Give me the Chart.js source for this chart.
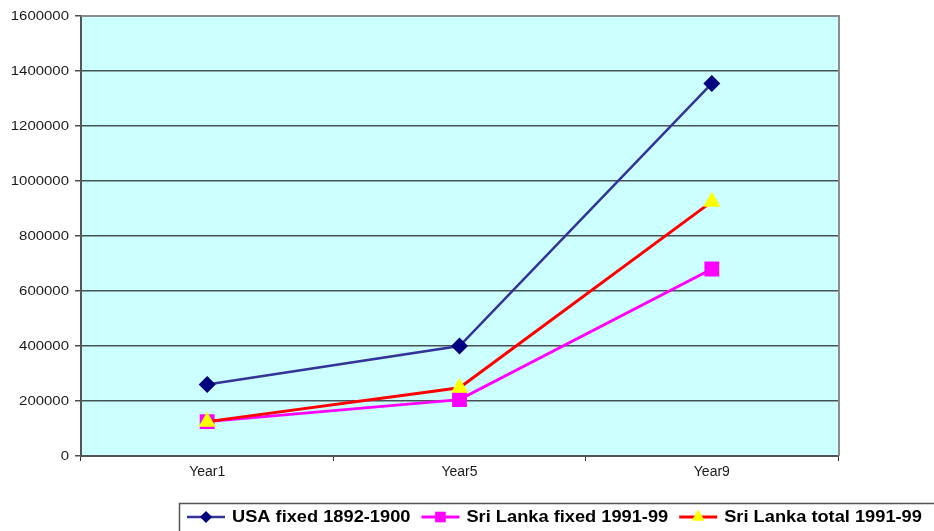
<!DOCTYPE html>
<html>
<head>
<meta charset="utf-8">
<script src="https://cdn.jsdelivr.net/npm/chart.js@4.4.1/dist/chart.umd.min.js"></script>
<style>
  html, body { margin: 0; padding: 0; background: #ffffff; }
  #wrap { width: 934px; height: 531px; position: relative; }
</style>
</head>
<body>
<div id="wrap"><canvas id="c" width="934" height="531"></canvas></div>
<script>
// Categories and series
const categories = ['Year1', 'Year5', 'Year9'];
const usaFixed = [260000, 400000, 1355000];
const sriLankaFixed = [125000, 205000, 680000];
const sriLankaTotal = [125000, 248000, 925000];
const seriesNames = ['USA fixed 1892-1900', 'Sri Lanka fixed 1991-99', 'Sri Lanka total 1991-99'];
const yTicks = [0, 200000, 400000, 600000, 800000, 1000000, 1200000, 1400000, 1600000];

const FONT = '"Liberation Sans", Arial, sans-serif';

// Plot background plus grey frame on top/right
const plotFrame = {
  id: 'plotFrame',
  beforeDraw(chart) {
    const { ctx, chartArea: a } = chart;
    ctx.save();
    ctx.fillStyle = '#CCFFFF';
    ctx.fillRect(a.left, a.top, a.right - a.left, a.bottom - a.top);
    ctx.restore();
  },
  afterDatasetsDraw(chart) {
    const { ctx, chartArea: a } = chart;
    ctx.save();
    ctx.strokeStyle = '#8c8c8c';
    ctx.lineWidth = 2;
    ctx.beginPath();
    ctx.moveTo(a.left, a.top);
    ctx.lineTo(a.right + 1, a.top);
    ctx.lineTo(a.right + 1, a.bottom);
    ctx.stroke();
    ctx.restore();
  }
};

// Y tick labels, slightly wide lettering
const yLabels = {
  id: 'yLabels',
  afterDraw(chart) {
    const { ctx } = chart;
    const s = chart.scales.y;
    ctx.save();
    ctx.font = '13px ' + FONT;
    ctx.fillStyle = '#1a1a1a';
    ctx.textAlign = 'right';
    ctx.textBaseline = 'middle';
    s.ticks.forEach((t, i) => {
      const y = s.getPixelForTick(i);
      ctx.save();
      ctx.translate(s.right - 12, y);
      ctx.scale(1.15, 1);
      ctx.fillText(String(t.value), 0, 0);
      ctx.restore();
    });
    ctx.restore();
  }
};

function marker(ctx, style, color, r, x, y) {
  ctx.fillStyle = color;
  ctx.beginPath();
  if (style === 'rectRot') {
    ctx.moveTo(x, y - r); ctx.lineTo(x + r, y); ctx.lineTo(x, y + r); ctx.lineTo(x - r, y);
  } else if (style === 'rect') {
    const h = r * Math.SQRT1_2;
    ctx.rect(x - h, y - h, 2 * h, 2 * h);
  } else {
    ctx.moveTo(x, y - r);
    ctx.lineTo(x + r * Math.cos(Math.PI / 6), y + r * 0.5);
    ctx.lineTo(x - r * Math.cos(Math.PI / 6), y + r * 0.5);
  }
  ctx.closePath();
  ctx.fill();
}

// Boxed legend along the bottom
const boxLegend = {
  id: 'boxLegend',
  afterDraw(chart) {
    const { ctx } = chart;
    ctx.save();
    ctx.fillStyle = '#ffffff';
    ctx.fillRect(180, 504, 800, 60);
    ctx.strokeStyle = '#555555';
    ctx.lineWidth = 1.5;
    ctx.strokeRect(179.5, 503.5, 800, 60);
    const cy = 517;
    let x = 187;
    const sx = 1.14;
    const sizes = [6, 7.5, 7.5];
    seriesNames.forEach((name, i) => {
      const ds = chart.data.datasets[i];
      ctx.strokeStyle = ds.borderColor;
      ctx.lineWidth = ds.borderWidth;
      ctx.beginPath();
      ctx.moveTo(x, cy);
      ctx.lineTo(x + 38, cy);
      ctx.stroke();
      marker(ctx, ds.pointStyle, ds.pointBackgroundColor, sizes[i], x + 19, cy);
      x += 45;
      ctx.font = 'bold 16px ' + FONT;
      ctx.fillStyle = '#000000';
      ctx.textAlign = 'left';
      ctx.textBaseline = 'alphabetic';
      const w = ctx.measureText(name).width * sx;
      ctx.save();
      ctx.translate(x, 522);
      ctx.scale(sx, 1);
      ctx.fillText(name, 0, 0);
      ctx.restore();
      x += w + 11;
    });
    ctx.restore();
  }
};

new Chart(document.getElementById('c'), {
  type: 'line',
  data: {
    labels: categories,
    datasets: [
      {
        label: seriesNames[0], data: usaFixed, order: 3,
        borderColor: '#333399', borderWidth: 2.5,
        pointStyle: 'rectRot', pointRadius: 8.5,
        pointBackgroundColor: '#000080', pointBorderColor: '#000080', pointBorderWidth: 0
      },
      {
        label: seriesNames[1], data: sriLankaFixed, order: 2,
        borderColor: '#FF00FF', borderWidth: 3,
        pointStyle: 'rect', pointRadius: 10.5,
        pointBackgroundColor: '#FF00FF', pointBorderColor: '#FF00FF', pointBorderWidth: 0
      },
      {
        label: seriesNames[2], data: sriLankaTotal, order: 1,
        borderColor: '#FF0000', borderWidth: 3,
        pointStyle: 'triangle', pointRadius: 10,
        pointBackgroundColor: '#FFFF00', pointBorderColor: '#FFFF00', pointBorderWidth: 0
      }
    ]
  },
  options: {
    responsive: false,
    animation: false,
    devicePixelRatio: 1,
    layout: { padding: { top: 16, right: 96, bottom: 0, left: 0 } },
    plugins: { legend: { display: false }, tooltip: { enabled: false } },
    elements: { line: { tension: 0 } },
    scales: {
      x: {
        offset: true,
        afterFit(s) { s.height = 75; },
        grid: { offset: true, drawOnChartArea: false, drawTicks: true, tickLength: 5, color: '#333333', lineWidth: 1 },
        border: { display: true, color: '#555555', width: 2 },
        ticks: { font: { family: FONT, size: 14 }, color: '#1a1a1a', padding: 3, maxRotation: 0 }
      },
      y: {
        min: 0, max: 1600000,
        afterFit(s) { s.width = 81; },
        afterBuildTicks(s) { s.ticks = yTicks.map(v => ({ value: v })); },
        grid: { color: '#465252', lineWidth: 1.5, drawTicks: true, tickLength: 6 },
        border: { display: true, color: '#555555', width: 2 },
        ticks: { display: false }
      }
    }
  },
  plugins: [plotFrame, yLabels, boxLegend]
});
</script>
</body>
</html>
